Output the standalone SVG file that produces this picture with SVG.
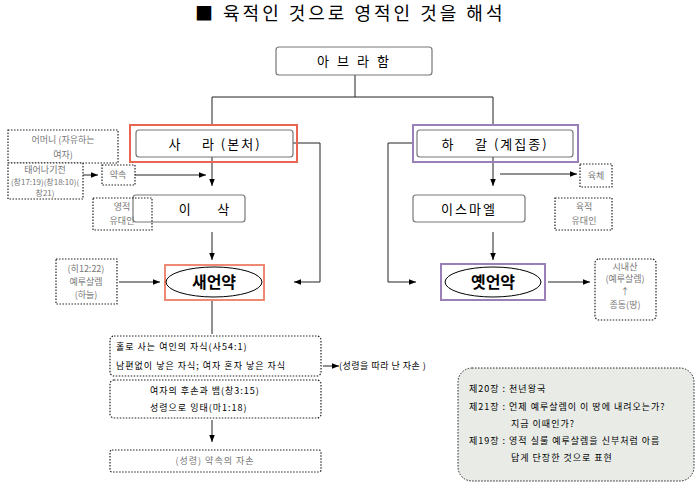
<svg xmlns="http://www.w3.org/2000/svg" width="696" height="496" viewBox="0 0 696 496">
<defs><marker id="a" viewBox="0 0 10 10" refX="10" refY="5" markerWidth="7" markerHeight="7" orient="auto"><path d="M0,1L10,5L0,9z" fill="#000"/></marker></defs>
<style>
text{font-family:"Noto Sans CJK KR","Noto Sans",sans-serif;fill:#000;white-space:pre}
.b{fill:#fff;stroke:#777;stroke-width:1.2}
.d{fill:#fff;stroke:#222;stroke-width:1.2;stroke-dasharray:1.5,1.5}
.g{fill:#777}
.c{fill:none;stroke:#222;stroke-width:1}
.m{font-size:13px;text-anchor:middle;letter-spacing:2px}
.s{font-size:9px;text-anchor:middle}
.t{font-size:9px;letter-spacing:1px}
</style>
<rect width="696" height="496" fill="#fff"/>
<text x="195" y="20" style="font-size:18px;letter-spacing:3px">■ 육적인 것으로 영적인 것을 해석</text>
<g id="connectors">
<path class="c" d="M355,75V97M212,97H493M212,97V125M493,97V125"/>
<path class="c" d="M293,143H320V282H294" marker-end="url(#a)"/>
<path class="c" d="M212,157V186" marker-end="url(#a)"/>
<path class="c" d="M135,175H206" marker-end="url(#a)"/>
<path class="c" d="M83,175H98" marker-end="url(#a)"/>
<path class="c" d="M212,232V260" marker-end="url(#a)"/>
<path class="c" d="M119,282H160" marker-end="url(#a)"/>
<path class="c" d="M212,300V334"/>
<path class="c" d="M323,366H339" marker-end="url(#a)"/>
<path class="c" d="M212,420V442" marker-end="url(#a)"/>
<path class="c" d="M413,143H388V282H416" marker-end="url(#a)"/>
<path class="c" d="M493,157V186" marker-end="url(#a)"/>
<path class="c" d="M500,174H577" marker-end="url(#a)"/>
<path class="c" d="M493,232V260" marker-end="url(#a)"/>
<path class="c" d="M548,282H590" marker-end="url(#a)"/>
</g>
<g id="abraham"><rect class="b" x="276" y="47" width="156" height="28" rx="3"/><text class="m" x="357" y="66" style="letter-spacing:8px">아브라함</text></g>
<g id="sara"><rect x="130" y="125" width="167" height="37" fill="none" stroke="#e8664f" stroke-width="2"/><rect class="b" x="136" y="130" width="157" height="27" rx="3"/><text class="m" x="215" y="149">사    라 (본처)</text></g>
<g id="mother"><rect class="d" x="8" y="130" width="110" height="33"/><text class="s g" x="63" y="143">어머니 (자유하는</text><text class="s g" x="63" y="158">여자)</text></g>
<g id="before"><rect class="d" x="8" y="163" width="75" height="36"/><text class="s g" x="45" y="173">태어나기전</text><text class="s g" x="45" y="185" style="font-size:8px">(창17:19)(창18:10)(</text><text class="s g" x="45" y="196" style="font-size:8px">창21)</text></g>
<g id="promise"><rect class="d" x="102" y="165" width="33" height="20"/><text class="s g" x="118" y="178">약속</text></g>
<g id="isaac"><rect class="b" x="133" y="195" width="112" height="27" rx="3"/><text class="m" x="205" y="214">이     삭</text></g>
<g id="spiritjew"><rect class="d" x="93" y="198" width="59" height="32" fill-opacity="0"/><text class="s g" x="122" y="210">영적</text><text class="s g" x="122" y="224">유대인</text></g>
<g id="newcov"><rect x="165" y="265" width="99" height="35" fill="none" stroke="#ef8a72" stroke-width="2"/><ellipse cx="214" cy="282" rx="48" ry="15" fill="#fff" stroke="#000"/><text class="m" x="214" y="288" style="font-size:16px;font-weight:bold;letter-spacing:0">새언약</text></g>
<g id="heb"><rect class="d" x="56" y="259" width="61" height="45"/><text class="s g" x="86" y="272">(히12:22)</text><text class="s g" x="86" y="285">예루살렘</text><text class="s g" x="86" y="298">(하늘)</text></g>
<g id="box1"><rect class="d" x="110" y="336" width="211" height="40" rx="4"/><text class="t" x="116" y="350">홀로 사는 여인의 자식(사54:1)</text><text class="t" x="116" y="369">남편없이 낳은 자식; 여자 혼자 낳은 자식</text></g>
<text class="t" x="339" y="369" style="letter-spacing:0.5px">(성령을 따라 난 자손 )</text>
<g id="box2"><rect class="d" x="110" y="380" width="211" height="38" rx="4"/><text class="t" x="150" y="394">여자의 후손과 뱀(창3:15)</text><text class="t" x="150" y="411">성령으로 잉태(마1:18)</text></g>
<g id="box3"><rect class="d" x="110" y="450" width="211" height="22" rx="2"/><text class="s g" x="215" y="464" style="letter-spacing:1px">(성령) 약속의 자손</text></g>
<g id="hagar"><rect x="413" y="125" width="165" height="37" fill="none" stroke="#9b80b8" stroke-width="2"/><rect class="b" x="417" y="130" width="156" height="27" rx="3"/><text class="m" x="495" y="149">하    갈 (계집종)</text></g>
<g id="flesh"><rect class="d" x="580" y="164" width="32" height="23"/><text class="s g" x="596" y="179">육체</text></g>
<g id="ishmael"><rect class="b" x="413" y="195" width="112" height="27" rx="3"/><text class="m" x="469" y="214">이스마엘</text></g>
<g id="fleshjew"><rect class="d" x="555" y="198" width="57" height="32"/><text class="s g" x="584" y="210">육적</text><text class="s g" x="584" y="224">유대인</text></g>
<g id="oldcov"><rect x="441" y="264" width="104" height="36" fill="none" stroke="#9b80b8" stroke-width="2"/><ellipse cx="493" cy="282" rx="48" ry="15" fill="#fff" stroke="#000"/><text class="m" x="493" y="288" style="font-size:16px;font-weight:bold;letter-spacing:0">옛언약</text></g>
<g id="sinai"><rect class="d" x="595" y="259" width="61" height="61" rx="4"/><text class="s g" x="625" y="270">시내산</text><text class="s g" x="625" y="282">(예루살렘)</text><text class="s g" x="625" y="295">↑</text><text class="s g" x="625" y="308">종동(땅)</text></g>
<g id="note"><rect x="458" y="368" width="236" height="113" rx="14" fill="#e8ebe6" stroke="#222" stroke-dasharray="1.5,1.5"/>
<text class="t" x="469" y="392">제20장 : 천년왕국</text>
<text class="t" x="469" y="410">제21장 : 언제 예루살렘이 이 땅에 내려오는가?</text>
<text class="t" x="511" y="427">지금 이때인가?</text>
<text class="t" x="469" y="444">제19장 : 영적 실룰 예루살렘을 신부처럼 아름</text>
<text class="t" x="511" y="461">답게 단장한 것으로 표현</text></g>
</svg>
